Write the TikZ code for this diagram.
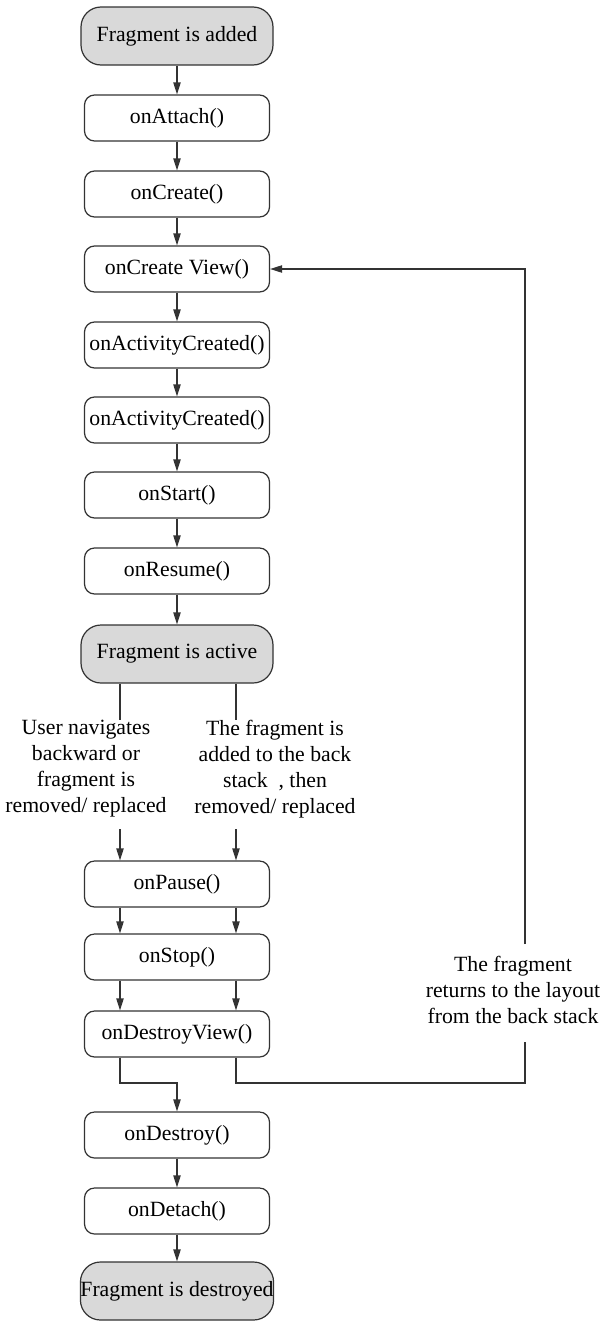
\documentclass[tikz,border=0pt]{standalone}
\usepackage{fontspec}
\setmainfont{Liberation Serif}
\usetikzlibrary{arrows.meta}
\definecolor{linec}{HTML}{333333}
\definecolor{termfill}{HTML}{D9D9D9}
\begin{document}
\begin{tikzpicture}[x=0.75pt,y=-0.75pt,
  every node/.style={font=\fontsize{16.3}{19.5}\selectfont, text=black},
  procbox/.style={draw=linec, line width=0.9pt, rounded corners=7.5pt, minimum width=138.75pt, minimum height=34.5pt, inner sep=0pt, fill=white},
  termbox/.style={draw=linec, line width=0.9pt, rounded corners=15pt, minimum width=144pt, minimum height=43.5pt, inner sep=0pt, fill=termfill},
  conn/.style={draw=linec, line width=0.9pt},
  arr/.style={conn, -{Triangle[length=9pt,width=5.5pt]}},
  lbl/.style={align=center, inner sep=0pt}]
\useasboundingbox (0,0) rectangle (605,1321);
\fill[white] (0,0) rectangle (605,1321);

\node[termbox] (added) at (177,36) {Fragment is added};
\node[procbox] (attach) at (177,118) {onAttach()};
\node[procbox] (create) at (177,194) {onCreate()};
\node[procbox] (cview) at (177,269) {onCreate View()};
\node[procbox] (act1) at (177,345) {onActivityCreated()};
\node[procbox] (act2) at (177,420) {onActivityCreated()};
\node[procbox] (start) at (177,495) {onStart()};
\node[procbox] (resume) at (177,571) {onResume()};
\node[termbox] (active) at (177,654) {Fragment is active};
\node[procbox] (pause) at (177,884) {onPause()};
\node[procbox] (stop) at (177,957) {onStop()};
\node[procbox] (dview) at (177,1034) {onDestroyView()};
\node[procbox] (destroy) at (177,1135) {onDestroy()};
\node[procbox] (detach) at (177,1211) {onDetach()};
\node[termbox] (destroyed) at (177,1291) {Fragment is destroyed};

\node[lbl] (lefttxt) at (86,769) {User navigates\\backward or\\fragment is\\removed/ replaced};
\node[lbl] (righttxt) at (275,769) {The fragment is\\added to the back\\stack\ \ , then\\removed/ replaced};
\node[lbl] (backtxt) at (513,990) {The fragment\\returns to the layout\\from the back stack};

\coordinate (lt) at (120,720);
\coordinate (lb) at (120,829);
\coordinate (rt) at (236,720);
\coordinate (rb) at (236,829);
\coordinate (merge) at (177,1083);
\coordinate (c1) at (525,1083);
\coordinate (g1) at (525,1042);
\coordinate (g2) at (525,944);

\draw[arr] (added) -- (attach);
\draw[arr] (attach) -- (create);
\draw[arr] (create) -- (cview);
\draw[arr] (cview) -- (act1);
\draw[arr] (act1) -- (act2);
\draw[arr] (act2) -- (start);
\draw[arr] (start) -- (resume);
\draw[arr] (resume) -- (active);

\draw[conn] (active.south -| lt) -- (lt);
\draw[conn] (active.south -| rt) -- (rt);
\draw[arr] (lb) -- (pause.north -| lb);
\draw[arr] (rb) -- (pause.north -| rb);
\draw[arr] (pause.south -| lt) -- (stop.north -| lt);
\draw[arr] (pause.south -| rt) -- (stop.north -| rt);
\draw[arr] (stop.south -| lt) -- (dview.north -| lt);
\draw[arr] (stop.south -| rt) -- (dview.north -| rt);

\draw[arr] (dview.south -| lt) |- (merge) -- (destroy.north);
\draw[conn] (dview.south -| rt) |- (c1) -- (g1);
\draw[arr] (g2) |- (cview.east);

\draw[arr] (destroy) -- (detach);
\draw[arr] (detach) -- (destroyed);
\end{tikzpicture}
\end{document}
